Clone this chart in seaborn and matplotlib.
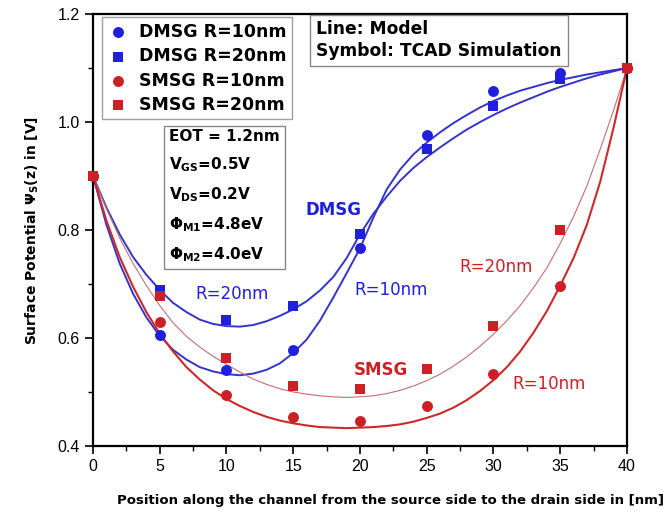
import matplotlib
matplotlib.use("Agg")
import matplotlib.pyplot as plt
import seaborn as sns
from matplotlib.ticker import MultipleLocator

# TCAD simulation points
sim_x = [0, 5, 10, 15, 20, 25, 30, 35, 40]
dmsg_r10_sim = [0.900, 0.605, 0.541, 0.578, 0.766, 0.976, 1.057, 1.091, 1.100]
dmsg_r20_sim = [0.900, 0.689, 0.634, 0.659, 0.792, 0.950, 1.030, 1.080, 1.100]
smsg_r10_sim = [0.900, 0.630, 0.495, 0.453, 0.446, 0.474, 0.534, 0.696, 1.100]
smsg_r20_sim = [0.900, 0.678, 0.563, 0.511, 0.505, 0.543, 0.623, 0.800, 1.100]

# model curves (every 1 nm)
model_x = list(range(0, 41))
dmsg_r10_model = [0.900, 0.810, 0.738, 0.682, 0.638, 0.604, 0.578, 0.560, 0.546, 0.538,
                  0.533, 0.531, 0.534, 0.541, 0.553, 0.572, 0.597, 0.632, 0.675, 0.720,
                  0.766, 0.823, 0.875, 0.912, 0.940, 0.962, 0.981, 0.998, 1.013, 1.027,
                  1.039, 1.049, 1.058, 1.065, 1.072, 1.078, 1.083, 1.088, 1.092, 1.096, 1.100]
dmsg_r20_model = [0.900, 0.842, 0.792, 0.750, 0.717, 0.689, 0.665, 0.648, 0.634, 0.626,
                  0.622, 0.621, 0.624, 0.631, 0.641, 0.653, 0.668, 0.688, 0.713, 0.748,
                  0.792, 0.830, 0.862, 0.891, 0.915, 0.935, 0.953, 0.970, 0.986, 1.000,
                  1.013, 1.025, 1.036, 1.046, 1.056, 1.065, 1.073, 1.081, 1.088, 1.094, 1.100]
smsg_r10_model = [0.900, 0.818, 0.750, 0.695, 0.648, 0.608, 0.575, 0.546, 0.523, 0.503,
                  0.487, 0.474, 0.463, 0.454, 0.447, 0.442, 0.438, 0.435, 0.434, 0.433,
                  0.434, 0.435, 0.437, 0.440, 0.445, 0.452, 0.460, 0.471, 0.485, 0.502,
                  0.522, 0.546, 0.575, 0.610, 0.650, 0.697, 0.748, 0.810, 0.890, 0.990, 1.100]
smsg_r20_model = [0.900, 0.840, 0.785, 0.738, 0.697, 0.660, 0.628, 0.603, 0.583, 0.566,
                  0.551, 0.537, 0.524, 0.514, 0.506, 0.500, 0.496, 0.493, 0.491, 0.490,
                  0.491, 0.493, 0.497, 0.503, 0.511, 0.521, 0.533, 0.548, 0.565, 0.585,
                  0.607, 0.632, 0.660, 0.693, 0.730, 0.775, 0.825, 0.882, 0.950, 1.022, 1.100]

BLUE = "#1f1fdc"
BLUE_LINE = "#3434c8"
RED = "#cc1f26"
RED_LINE = "#cc2a2a"
RED_THIN = "#c07070"

sns.set_style("ticks")
plt.rcParams["font.family"] = ["DejaVu Sans"]
plt.rcParams["mathtext.fontset"] = "dejavusans"
plt.rcParams["mathtext.default"] = "bf"
plt.rcParams["text.color"] = "black"
plt.rcParams["axes.labelcolor"] = "black"

fig = plt.figure(figsize=(6.7, 5.19), dpi=100)
ax = fig.add_axes([0.1388, 0.1407, 0.7970, 0.8323])

# model lines
sns.lineplot(x=model_x, y=dmsg_r10_model, color=BLUE_LINE, lw=1.4, ax=ax, legend=False)
sns.lineplot(x=model_x, y=dmsg_r20_model, color=BLUE_LINE, lw=1.4, ax=ax, legend=False)
sns.lineplot(x=model_x, y=smsg_r20_model, color=RED_THIN, lw=0.8, ax=ax, legend=False)
sns.lineplot(x=model_x, y=smsg_r10_model, color=RED_LINE, lw=1.5, ax=ax, legend=False)

# simulation symbols
sns.scatterplot(x=sim_x, y=dmsg_r10_sim, marker="o", color=BLUE, s=62, linewidth=0,
                label="DMSG R=10nm", ax=ax, zorder=5, clip_on=False)
sns.scatterplot(x=sim_x, y=dmsg_r20_sim, marker="s", color=BLUE, s=48, linewidth=0,
                label="DMSG R=20nm", ax=ax, zorder=5, clip_on=False)
sns.scatterplot(x=sim_x, y=smsg_r10_sim, marker="o", color=RED, s=62, linewidth=0,
                label="SMSG R=10nm", ax=ax, zorder=5, clip_on=False)
sns.scatterplot(x=sim_x, y=smsg_r20_sim, marker="s", color=RED, s=48, linewidth=0,
                label="SMSG R=20nm", ax=ax, zorder=5, clip_on=False)

ax.set_xlim(0, 40)
ax.set_ylim(0.4, 1.2)
ax.xaxis.set_major_locator(MultipleLocator(5))
ax.xaxis.set_minor_locator(MultipleLocator(2.5))
ax.yaxis.set_major_locator(MultipleLocator(0.2))
ax.yaxis.set_minor_locator(MultipleLocator(0.1))
ax.yaxis.set_major_formatter(plt.FormatStrFormatter("%.1f"))
ax.tick_params(which="major", direction="out", length=6, width=1.2, labelsize=11.5,
               colors="black")
ax.tick_params(which="minor", direction="out", length=3.5, width=1.0, colors="black")
for lab in ax.get_xticklabels() + ax.get_yticklabels():
    lab.set_family(["Liberation Sans Narrow", "Liberation Sans"])
for sp in ax.spines.values():
    sp.set_visible(True)
    sp.set_linewidth(1.6)
    sp.set_color("black")

ax.set_xlabel("Position along the channel from the source side to the drain side in [nm]",
              fontsize=9.5, fontweight="bold")
ax.xaxis.set_label_coords(0.558, -0.112)
ax.set_ylabel(r"Surface Potential $\mathregular{\Psi_S}$(z) in [V]", fontsize=10,
              fontweight="bold", labelpad=12)

leg = ax.legend(loc="upper left", bbox_to_anchor=(0.016, 0.992), frameon=True, fancybox=False,
                prop={"weight": "bold", "size": 12.5}, handletextpad=0.55, borderpad=0.32,
                labelspacing=0.36, handlelength=1.3, borderaxespad=0)
leg.get_frame().set_edgecolor("#888888")
leg.get_frame().set_linewidth(1.0)

box = dict(boxstyle="square,pad=0.35", fc="white", ec="#888888", lw=1.0)
ax.text(0.418, 0.985, "Line: Model\nSymbol: TCAD Simulation", transform=ax.transAxes,
        ha="left", va="top", fontsize=12.3, fontweight="bold", linespacing=1.25, bbox=box)
ax.text(0.143, 0.733,
        "EOT = 1.2nm\nV$_{GS}$=0.5V\nV$_{DS}$=0.2V\n\u03a6$_{M1}$=4.8eV\n\u03a6$_{M2}$=4.0eV",
        transform=ax.transAxes, ha="left", va="top", fontsize=11, fontweight="bold",
        linespacing=1.8, bbox=box)

ax.text(18.05, 0.837, "DMSG", color=BLUE, fontsize=12, fontweight="bold", ha="center", va="center")
ax.text(10.4, 0.681, "R=20nm", color=BLUE, fontsize=12, ha="center", va="center")
ax.text(22.3, 0.689, "R=10nm", color=BLUE, fontsize=12, ha="center", va="center")
ax.text(21.6, 0.541, "SMSG", color=RED, fontsize=12, fontweight="bold", ha="center", va="center")
ax.text(30.2, 0.731, "R=20nm", color=RED, fontsize=12, ha="center", va="center")
ax.text(34.2, 0.515, "R=10nm", color=RED, fontsize=12, ha="center", va="center")

fig.savefig("out.png", dpi=100)
